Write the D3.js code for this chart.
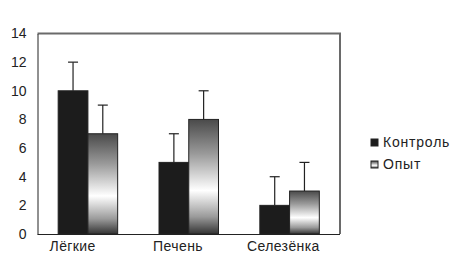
<!DOCTYPE html>
<html><head><meta charset="utf-8">
<script src="https://cdn.jsdelivr.net/npm/d3@7"></script>
<style>body{margin:0;background:#fff}svg{display:block}text{font-family:"Liberation Sans",Arial,sans-serif;fill:#222}</style>
</head><body><svg id="c" width="452" height="270"></svg>
<script>
const categories = ["Лёгкие", "Печень", "Селезёнка"];
const seriesNames = ["Контроль", "Опыт"];
const controlValues = [10, 5, 2];
const experimentValues = [7, 8, 3];
const controlErrors = [2, 2, 2];
const experimentErrors = [2, 2, 2];
const yTicks = [0, 2, 4, 6, 8, 10, 12, 14];

const svg = d3.select("#c");
const L = 37.5, R = 340, T = 33.5, B = 234;
const defs = svg.append("defs");
const g = defs.append("linearGradient").attr("id","grad").attr("x1",0).attr("y1",0).attr("x2",0).attr("y2",1);
[[0,"#4a4a4a"],[0.3,"#9a9a9a"],[0.62,"#ffffff"],[0.85,"#9a9a9a"],[1,"#333"]].forEach(s=>g.append("stop").attr("offset",s[0]).attr("stop-color",s[1]));

const x = d3.scaleBand().domain(categories).range([L, R]).paddingInner(0.41).paddingOuter(0.205);
const xLabel = d3.scaleBand().domain(categories).range([20, 336]);
const x1 = d3.scaleBand().domain(seriesNames).range([0, x.bandwidth()]);
const y = d3.scaleLinear().domain([0, 14]).range([B, T]);

// frame top & right
svg.append("path").attr("d", `M${L},${T}H${R}V${B}`).attr("fill","none").attr("stroke","#6a6a6a").attr("stroke-width",2);

const data = categories.map((c,i)=>[
  {c, s: seriesNames[0], v: controlValues[i], e: controlErrors[i]},
  {c, s: seriesNames[1], v: experimentValues[i], e: experimentErrors[i]}
]).flat();

const fills = {"Контроль":"#1c1c1c","Опыт":"url(#grad)"};

// error bars
const eb = svg.append("g").attr("stroke","#222").attr("stroke-width",1.2);
data.forEach(d=>{
  const cx = x(d.c) + x1(d.s) + x1.bandwidth()/2;
  eb.append("line").attr("x1",cx).attr("x2",cx).attr("y1",y(d.v)).attr("y2",y(d.v+d.e));
  eb.append("line").attr("x1",cx-5).attr("x2",cx+5).attr("y1",y(d.v+d.e)).attr("y2",y(d.v+d.e));
});

svg.append("g").selectAll("rect").data(data).join("rect")
  .attr("x", d=>x(d.c)+x1(d.s)).attr("width", x1.bandwidth())
  .attr("y", d=>y(d.v)).attr("height", d=>B-y(d.v))
  .attr("fill", d=>fills[d.s]).attr("stroke","#222").attr("stroke-width",1);

// axes
const ya = svg.append("g").attr("transform",`translate(${L},0)`)
  .call(d3.axisLeft(y).tickValues(yTicks).tickSize(0).tickPadding(11));
ya.select(".domain").attr("stroke","#222");
ya.selectAll("text").attr("font-size",14).attr("fill","#222").style("font-family","Liberation Sans, Arial, sans-serif");

const xa = svg.append("g").attr("transform",`translate(0,${B})`)
  .call(d3.axisBottom(xLabel).tickSize(0));
xa.select(".domain").attr("stroke","#222").attr("d",`M${L},0.5H${R}`);
xa.selectAll("text").attr("font-size",14).attr("fill","#222").attr("y",17).attr("dy",0)
  .attr("letter-spacing",0.4).style("font-family","Liberation Sans, Arial, sans-serif");

// legend
const lg = svg.append("g").attr("transform","translate(371,139)");
seriesNames.forEach((s,i)=>{
  const r = lg.append("g").attr("transform",`translate(0,${i*22})`);
  r.append("rect").attr("width",7).attr("height",7).attr("fill",fills[s]).attr("stroke","#222").attr("stroke-width",1);
  r.append("text").attr("x",12).attr("y",8).attr("font-size",14).attr("letter-spacing",0.8).text(s);
});
</script></body></html>
